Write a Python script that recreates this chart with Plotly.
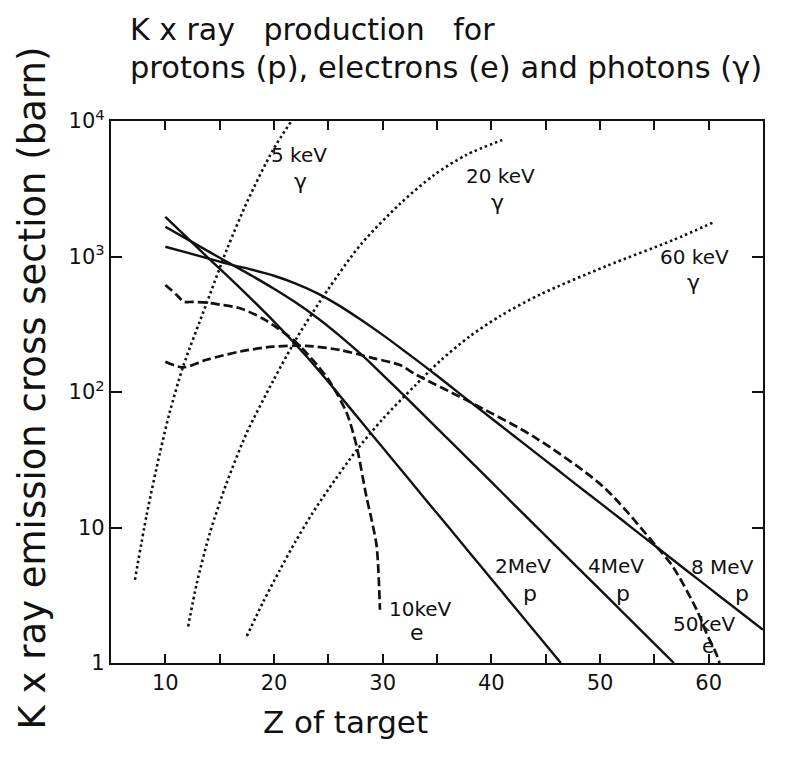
import math
import plotly.graph_objects as go

# Atomic number of the target (x) and K x-ray emission cross section in barn (y)
z_p2 = [10, 12, 14, 16, 18, 20, 22, 24, 26, 28, 30, 32, 34, 36, 38, 40, 42, 44, 46.4]
s_p2 = [1963, 1380, 966, 684, 479, 331, 224, 148, 95.1, 60.8, 38.9, 24.9, 15.9, 10.2, 6.52, 4.17, 2.67, 1.71, 1.0]

z_p4 = [10, 12, 14, 16, 18, 20, 22, 24, 26, 28, 30, 32, 34, 36, 38, 40, 42, 44, 46, 48, 50, 52, 54, 56.8]
s_p4 = [1660, 1343, 1086, 883, 718, 578, 457, 352, 262, 190, 134, 93.8, 65.0, 45.1, 31.3, 21.7, 15.0, 10.4, 7.23, 5.01, 3.48, 2.41, 1.67, 1.0]

z_p8 = [10, 12, 14, 16, 18, 20, 22, 24, 26, 28, 30, 32, 34, 36, 38, 40, 42, 44, 46, 48, 50, 52, 54, 56, 58, 60, 62, 65]
s_p8 = [1180, 1067, 964, 871, 798, 721, 631, 535, 434, 341, 264, 201, 152, 114, 85.3, 64.0, 48.0, 36.0, 27.0, 20.2, 15.2, 11.4, 8.53, 6.40, 4.80, 3.60, 2.70, 1.76]

z_e10 = [10, 11, 11.7, 12.5, 13.8, 15, 17, 19, 20, 22, 24, 25.2, 26.7, 27.6, 28.5, 29, 29.45, 29.75]
s_e10 = [617, 525, 465, 462, 457, 442, 412, 347, 309, 234, 157, 117, 69.8, 39.8, 17.0, 11.2, 7.24, 2.47]

z_e50 = [10, 11.65, 13.8, 16.9, 19.9, 23, 26.1, 29.1, 31.6, 33.1, 37.7, 43.9, 50.3, 55.2, 56.7, 58.9, 59.8, 60.7, 61.0]
s_e50 = [167, 152, 173, 199, 216, 219, 204, 178, 158, 134, 87.1, 46.8, 20.0, 7.24, 5.15, 2.47, 1.66, 1.17, 1.0]

z_g5 = [7.2, 8.3, 9.5, 10.4, 11.65, 13.8, 15.65, 17.6, 19.9, 21.6]
s_g5 = [4.11, 12.6, 35.5, 70.8, 155, 452, 1120, 2610, 6100, 10000]

z_g20 = [12.1, 12.9, 14.1, 15.65, 17.5, 19.9, 22.1, 25, 28, 31.6, 34.7, 37.7, 41.0]
s_g20 = [1.86, 3.89, 9.12, 21.4, 50.1, 120, 251, 575, 1230, 2450, 3980, 5620, 7240]

z_g60 = [17.5, 19, 20.5, 22, 23.5, 25, 27.6, 30, 33, 35.3, 38, 40.8, 44.5, 50.6, 56.7, 60.6]
s_g60 = [1.58, 2.82, 4.79, 7.94, 12.6, 19.1, 37.2, 63.1, 112, 170, 257, 363, 525, 851, 1320, 1810]

x_ticks = [10, 20, 30, 40, 50, 60]
x_minor_ticks = [15, 25, 35, 45, 55]
y_ticks = [1, 10, 100, 1000, 10000]
y_tick_text = ["1", "10", "10<sup>2</sup>", "10<sup>3</sup>", "10<sup>4</sup>"]

INK = "#111111"
FONT = "DejaVu Sans"

SOLID = dict(color=INK, width=2.4)
DASHED = dict(color=INK, width=2.7, dash="9px,4px")
DOTTED = dict(color=INK, width=2.6, dash="2.5px,3px")

curves = [
    (z_p2, s_p2, SOLID, "2 MeV p"),
    (z_p4, s_p4, SOLID, "4 MeV p"),
    (z_p8, s_p8, SOLID, "8 MeV p"),
    (z_e10, s_e10, DASHED, "10 keV e"),
    (z_e50, s_e50, DASHED, "50 keV e"),
    (z_g5, s_g5, DOTTED, "5 keV γ"),
    (z_g20, s_g20, DOTTED, "20 keV γ"),
    (z_g60, s_g60, DOTTED, "60 keV γ"),
]

fig = go.Figure()
for zs, ss, style, name in curves:
    fig.add_trace(go.Scatter(
        x=zs, y=ss, mode="lines", name=name,
        line=dict(shape="spline", smoothing=0.8, **style),
        hoverinfo="x+y+name",
    ))

# Curve labels: (Z, sigma in barn, text, font size)
labels = [
    (22.3, 10 ** 3.75, "5 keV", 20), (22.4, 10 ** 3.55, "γ", 22),
    (40.8, 10 ** 3.595, "20 keV", 20), (40.6, 10 ** 3.395, "γ", 22),
    (58.7, 10 ** 2.997, "60 keV", 20), (58.6, 10 ** 2.805, "γ", 22),
    (42.9, 10 ** 0.718, "2MeV", 20), (43.6, 10 ** 0.51, "p", 22),
    (51.5, 10 ** 0.718, "4MeV", 20), (52.1, 10 ** 0.51, "p", 22),
    (61.3, 10 ** 0.71, "8 MeV", 20), (63.1, 10 ** 0.51, "p", 22),
    (33.5, 10 ** 0.40, "10keV", 20), (33.2, 10 ** 0.225, "e", 22),
    (59.6, 10 ** 0.29, "50keV", 20), (59.9, 10 ** 0.125, "e", 20),
]
for zx, sy, txt, fs in labels:
    fig.add_annotation(x=zx, y=math.log10(sy), xref="x", yref="y", text=txt,
                       showarrow=False, font=dict(family=FONT, size=fs, color=INK))

fig.add_annotation(x=0.026, y=1.168, xref="paper", yref="paper", xanchor="left",
                   yanchor="middle", showarrow=False,
                   text="K x ray   production   for",
                   font=dict(family=FONT, size=30, color=INK))
fig.add_annotation(x=0.026, y=1.098, xref="paper", yref="paper", xanchor="left",
                   yanchor="middle", showarrow=False,
                   text="protons (p), electrons (e) and photons (γ)",
                   font=dict(family=FONT, size=30.5, color=INK))
fig.add_annotation(x=0.359, y=-0.108, xref="paper", yref="paper", xanchor="center",
                   yanchor="middle", showarrow=False, text="Z of target",
                   font=dict(family=FONT, size=31, color=INK))
fig.add_annotation(x=-0.12, y=0.508, xref="paper", yref="paper", xanchor="center",
                   yanchor="middle", showarrow=False, textangle=-90,
                   text="K x ray emission cross section (barn)",
                   font=dict(family=FONT, size=37, color=INK))

fig.update_layout(
    width=800, height=758,
    margin=dict(l=111, r=37, t=121, b=95),
    paper_bgcolor="white", plot_bgcolor="white",
    showlegend=False,
    font=dict(family=FONT, color=INK),
    xaxis=dict(
        range=[5, 65], tickmode="array", tickvals=x_ticks,
        ticks="inside", ticklen=9, tickwidth=1.6, tickcolor=INK,
        minor=dict(tickmode="array", tickvals=x_minor_ticks, ticks="inside",
                   ticklen=9, tickwidth=1.6, tickcolor=INK, showgrid=False),
        showline=True, linecolor=INK, linewidth=2.2, mirror="ticks",
        showgrid=False, zeroline=False,
        tickfont=dict(family=FONT, size=21, color=INK),
    ),
    yaxis=dict(
        type="log", range=[0, 4], tickmode="array", tickvals=y_ticks, ticktext=y_tick_text,
        ticks="inside", ticklen=11, tickwidth=1.6, tickcolor=INK,
        showline=True, linecolor=INK, linewidth=2.2, mirror="ticks",
        showgrid=False, zeroline=False,
        tickfont=dict(family=FONT, size=21, color=INK),
    ),
)

fig.write_html("out.html")
